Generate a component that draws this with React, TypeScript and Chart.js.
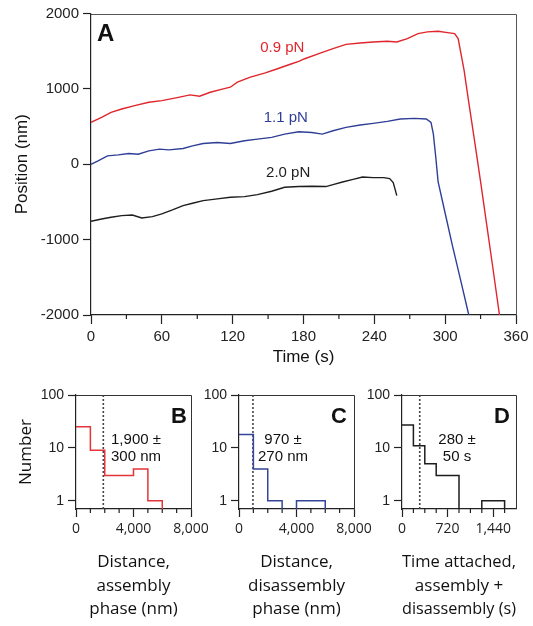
import React, { useEffect, useRef } from 'react';
import { Chart, registerables } from 'chart.js';

Chart.register(...registerables);

const W = 533;
const H = 626;

// ---------- Panel A: traces (time in s, position in nm) ----------
const redTime = [0, 9, 17, 26, 37, 49, 60, 72, 84, 92, 101, 112, 118, 124, 135, 147, 158, 170, 176, 181, 193, 205, 216, 228, 239, 251, 259, 268, 277, 285, 294, 302, 308, 311, 316, 320, 325, 330, 335, 340, 346];
const redPos = [556, 622, 689, 733, 778, 822, 844, 880, 920, 902, 955, 1000, 1022, 1089, 1155, 1209, 1267, 1333, 1364, 1400, 1467, 1533, 1591, 1609, 1622, 1631, 1622, 1667, 1733, 1756, 1764, 1747, 1733, 1667, 1250, 820, 300, -230, -780, -1330, -2000];

const blueTime = [0, 6, 14, 23, 32, 40, 49, 58, 66, 78, 86, 95, 107, 118, 130, 141, 153, 164, 176, 187, 196, 205, 216, 228, 239, 251, 262, 274, 284, 288, 290, 292, 294, 300, 306, 313, 320];
const bluePos = [0, 44, 111, 124, 142, 133, 178, 200, 191, 209, 244, 276, 289, 276, 311, 333, 356, 400, 431, 422, 400, 444, 489, 520, 542, 569, 600, 609, 600, 556, 400, 100, -230, -650, -1070, -1530, -2000];

const blackTime = [0, 9, 17, 26, 35, 43, 52, 60, 69, 78, 86, 95, 107, 118, 130, 141, 153, 164, 176, 187, 199, 205, 213, 222, 230, 239, 248, 253, 256, 258, 259];
const blackPos = [-757, -726, -704, -681, -673, -712, -695, -659, -606, -549, -518, -482, -460, -438, -429, -403, -358, -305, -296, -292, -296, -270, -235, -200, -169, -178, -178, -191, -244, -356, -416];

const traceLabels = ['0.9 pN', '1.1 pN', '2.0 pN'];
const timeTickLabels = [0, 60, 120, 180, 240, 300, 360];
const timeMinorTicks = [30, 90, 150, 210, 270, 330];
const positionTicks = [2000, 1000, 0, -1000, -2000];

// ---------- Panels B, C, D: histograms ----------
const distanceEdges = [0, 1000, 2000, 3000, 4000, 5000, 6000];
const assemblyCounts = [25, 9, 3, 3, 4, 1];
const disassemblyCounts = [18, 4, 1, 0, 1, 1];
const timeEdges = [0, 180, 360, 540, 720, 900, 1080, 1260, 1440, 1620];
const attachedCounts = [27, 11, 5, 3, 3, 0, 0, 1, 1];

const assemblyMedian = 1900;
const disassemblyMedian = 970;
const attachedMedian = 280;

const distanceTickLabels = [0, 4000, 8000];
const distanceMinorTicks = [1000, 2000, 3000, 5000, 6000, 7000];
const attachedTickLabels = [0, 720, 1440];
const attachedMinorTicks = [180, 360, 540, 900, 1080, 1260, 1620];
const countTicks = [1, 10, 100];

const COUNT_MIN = 0.7;
const COUNT_MAX = 100;
const FLOOR = 0.3; // below the axis floor, clipped (empty bins)

const SANS = "'Liberation Sans', Arial, sans-serif";
const MYRIAD = "'Open Sans', 'Noto Sans', sans-serif";

function makeFramePlugin(color: string) {
  return {
    id: 'frame',
    beforeDatasetsDraw(chart: any) {
      const { ctx, chartArea: a } = chart;
      ctx.save();
      ctx.strokeStyle = color;
      ctx.lineWidth = 1;
      ctx.beginPath();
      ctx.moveTo(a.left, Math.round(a.top) + 0.5);
      ctx.lineTo(Math.round(a.right) + 0.5, Math.round(a.top) + 0.5);
      ctx.lineTo(Math.round(a.right) + 0.5, a.bottom);
      ctx.stroke();
      ctx.restore();
    },
  };
}

function makeMinorTicksPlugin(values: number[], len: number) {
  return {
    id: 'minorTicks',
    afterDraw(chart: any) {
      const { ctx, chartArea } = chart;
      const xs = chart.scales.x;
      ctx.save();
      ctx.strokeStyle = '#222';
      ctx.lineWidth = 1.2;
      ctx.setLineDash([]);
      ctx.beginPath();
      for (let i = 0; i < values.length; i++) {
        const px = xs.getPixelForValue(values[i]);
        ctx.moveTo(px, chartArea.bottom);
        ctx.lineTo(px, chartArea.bottom + len);
      }
      ctx.stroke();
      ctx.restore();
    },
  };
}

interface Note {
  data?: boolean;
  x?: number;
  y?: number;
  dx?: number;
  dy?: number;
  fromRight?: boolean;
  lines: string[];
  lineHeight?: number;
  font: string;
  color: string;
  align?: string;
  baseline?: string;
}

function makeNotesPlugin(items: Note[]) {
  return {
    id: 'notes',
    afterDatasetsDraw(chart: any) {
      const { ctx, chartArea } = chart;
      const xs = chart.scales.x;
      const ys = chart.scales.y;
      for (const it of items) {
        ctx.save();
        ctx.font = it.font;
        ctx.fillStyle = it.color;
        ctx.textAlign = it.align || 'center';
        ctx.textBaseline = it.baseline || 'middle';
        let px: number;
        let py: number;
        if (it.data) {
          px = xs.getPixelForValue(it.x);
          py = ys.getPixelForValue(it.y);
        } else {
          px = it.fromRight ? chartArea.right - (it.dx || 0) : chartArea.left + (it.dx || 0);
          py = chartArea.top + (it.dy || 0);
        }
        it.lines.forEach((l, i) => ctx.fillText(l, px, py + i * (it.lineHeight || 0)));
        ctx.restore();
      }
    },
  };
}

const zip = (xs: number[], ys: number[]) => xs.map((x, i) => ({ x, y: ys[i] }));

function stepPoints(edges: number[], counts: number[]) {
  const pts = counts.map((c, i) => ({ x: edges[i], y: c > 0 ? c : FLOOR }));
  pts.push({ x: edges[counts.length], y: FLOOR });
  return pts;
}

const fmt = (v: number) => v.toLocaleString('en-US');

function makeTraceConfig() {
  const top = 13.5;
  const bottom = 315;
  const left = 91;
  const right = 516;
  const xH = 53;
  const line = (data: any[], color: string) => ({
    data,
    borderColor: color,
    borderWidth: 1.4,
    pointRadius: 0,
    fill: false,
    tension: 0,
  });
  const notes: Note[] = [
    { data: true, x: 162, y: 1550, lines: [traceLabels[0]], font: `15px ${SANS}`, color: '#e0262c' },
    { data: true, x: 165, y: 613, lines: [traceLabels[1]], font: `15px ${SANS}`, color: '#2f3f97' },
    { data: true, x: 167, y: -120, lines: [traceLabels[2]], font: `15px ${SANS}`, color: '#1e1e1e' },
    { dx: 6, dy: 9, lines: ['A'], font: `bold 24px ${SANS}`, color: '#111', align: 'left', baseline: 'top' },
  ];
  return {
    type: 'line',
    data: {
      datasets: [
        line(zip(redTime, redPos), '#e0262c'),
        line(zip(blueTime, bluePos), '#2f3f97'),
        line(zip(blackTime, blackPos), '#1e1e1e'),
      ],
    },
    plugins: [makeFramePlugin('#555'), makeMinorTicksPlugin(timeMinorTicks, 4), makeNotesPlugin(notes)],
    options: {
      responsive: false,
      animation: false,
      events: [],
      layout: { padding: { left: 0, top, right: W - right, bottom: H - bottom - xH } },
      plugins: {
        legend: { display: false },
        tooltip: { enabled: false },
      },
      scales: {
        x: {
          type: 'linear',
          min: 0,
          max: 360,
          afterBuildTicks: (s: any) => { s.ticks = timeTickLabels.map((v) => ({ value: v })); },
          ticks: {
            autoSkip: false,
            maxRotation: 0,
            padding: 4,
            color: '#222',
            font: { family: SANS, size: 15 },
            callback: (v: number) => String(v),
          },
          grid: { drawOnChartArea: false, tickLength: 9, tickColor: '#222', tickWidth: 1.2 },
          border: { color: '#222', width: 1.2 },
          title: {
            display: true,
            text: 'Time (s)',
            color: '#111',
            font: { family: SANS, size: 17 },
            padding: { top: 0, bottom: 0 },
          },
          afterFit: (s: any) => { s.height = xH; },
        },
        y: {
          type: 'linear',
          min: -2000,
          max: 2000,
          afterBuildTicks: (s: any) => { s.ticks = positionTicks.map((v) => ({ value: v })); },
          ticks: { padding: 4, color: '#222', font: { family: SANS, size: 15 }, callback: (v: number) => String(v) },
          grid: { drawOnChartArea: false, tickLength: 8, tickColor: '#222', tickWidth: 1.2 },
          border: { color: '#222', width: 1.2 },
          title: {
            display: true,
            text: 'Position (nm)',
            color: '#111',
            font: { family: SANS, size: 17 },
            padding: { top: 12, bottom: 0 },
          },
          afterFit: (s: any) => { s.width = left; },
        },
      },
    },
  };
}

interface HistSpec {
  left: number;
  right: number;
  edges: number[];
  counts: number[];
  median: number;
  color: string;
  xMax: number;
  labels: number[];
  minor: number[];
  title: string[];
  yTitle: string | null;
  letter: string;
  letterDx: number;
  note: string[];
  noteDx: number;
}

function makeHistConfig(h: HistSpec) {
  const top = 395;
  const bottom = 509;
  const yW = 76;
  const xH = 112;
  const notes: Note[] = [
    { fromRight: true, dx: h.letterDx, dy: 11, lines: [h.letter], font: `bold 22px ${SANS}`, color: '#111', align: 'right', baseline: 'top' },
    { dx: h.noteDx, dy: 45, lines: h.note, lineHeight: 17, font: `15px ${SANS}`, color: '#111' },
  ];
  return {
    type: 'line',
    data: {
      datasets: [
        {
          data: stepPoints(h.edges, h.counts),
          stepped: true,
          borderColor: h.color,
          borderWidth: 1.5,
          pointRadius: 0,
          fill: false,
        },
        {
          data: [{ x: h.median, y: COUNT_MIN }, { x: h.median, y: COUNT_MAX }],
          borderColor: '#444',
          borderWidth: 1.6,
          borderDash: [2, 2],
          pointRadius: 0,
          fill: false,
        },
      ],
    },
    plugins: [makeFramePlugin('#333'), makeMinorTicksPlugin(h.minor, 4), makeNotesPlugin(notes)],
    options: {
      responsive: false,
      animation: false,
      events: [],
      layout: { padding: { left: h.left - yW, top, right: W - h.right, bottom: H - bottom - xH } },
      plugins: {
        legend: { display: false },
        tooltip: { enabled: false },
      },
      scales: {
        x: {
          type: 'linear',
          min: 0,
          max: h.xMax,
          afterBuildTicks: (s: any) => { s.ticks = h.labels.map((v) => ({ value: v })); },
          ticks: {
            autoSkip: false,
            maxRotation: 0,
            padding: 4,
            color: '#222',
            font: { family: MYRIAD, size: 14 },
            callback: (v: number) => fmt(v),
          },
          grid: { drawOnChartArea: false, tickLength: 8, tickColor: '#222', tickWidth: 1.2 },
          border: { color: '#222', width: 1.2 },
          title: {
            display: true,
            text: h.title,
            color: '#111',
            font: { family: MYRIAD, size: 17, lineHeight: 1.38 },
            padding: { top: 0, bottom: 0 },
          },
          afterFit: (s: any) => { s.height = xH; },
        },
        y: {
          type: 'logarithmic',
          min: COUNT_MIN,
          max: COUNT_MAX,
          afterBuildTicks: (s: any) => { s.ticks = countTicks.map((v) => ({ value: v })); },
          ticks: { padding: 4, color: '#222', font: { family: SANS, size: 14 }, callback: (v: number) => String(v) },
          grid: { drawOnChartArea: false, tickLength: 8, tickColor: '#222', tickWidth: 1.2 },
          border: { color: '#222', width: 1.2 },
          title: {
            display: !!h.yTitle,
            text: h.yTitle || '',
            color: '#111',
            font: { family: MYRIAD, size: 17 },
            padding: { top: 16, bottom: 0 },
          },
          afterFit: (s: any) => { s.width = yW; },
        },
      },
    },
  };
}

const histB: HistSpec = {
  left: 76, right: 191, edges: distanceEdges, counts: assemblyCounts, median: assemblyMedian,
  color: '#e4353a', xMax: 8000, labels: distanceTickLabels, minor: distanceMinorTicks,
  title: ['Distance,', 'assembly', 'phase (nm)'], yTitle: 'Number', letter: 'B', letterDx: 4,
  note: ['1,900 ±', '300 nm'], noteDx: 60,
};
const histC: HistSpec = {
  left: 239, right: 354, edges: distanceEdges, counts: disassemblyCounts, median: disassemblyMedian,
  color: '#34459a', xMax: 8000, labels: distanceTickLabels, minor: distanceMinorTicks,
  title: ['Distance,', 'disassembly', 'phase (nm)'], yTitle: null, letter: 'C', letterDx: 7,
  note: ['970 ±', '270 nm'], noteDx: 44,
};
const histD: HistSpec = {
  left: 402, right: 516, edges: timeEdges, counts: attachedCounts, median: attachedMedian,
  color: '#1e1e1e', xMax: 1800, labels: attachedTickLabels, minor: attachedMinorTicks,
  title: ['Time attached,', 'assembly +', 'disassembly (s)'], yTitle: null, letter: 'D', letterDx: 6,
  note: ['280 ±', '50 s'], noteDx: 55,
};

function ChartCanvas({ make }: { make: () => any }) {
  const ref = useRef<HTMLCanvasElement>(null);
  useEffect(() => {
    const chart = new Chart(ref.current as HTMLCanvasElement, make());
    return () => chart.destroy();
  }, []);
  return (
    <canvas
      ref={ref}
      width={W}
      height={H}
      style={{ position: 'absolute', left: 0, top: 0, width: W, height: H }}
    />
  );
}

export default function App() {
  return (
    <div style={{ position: 'absolute', left: 0, top: 0, width: W, height: H, background: '#fff', overflow: 'hidden' }}>
      <ChartCanvas make={makeTraceConfig} />
      <ChartCanvas make={() => makeHistConfig(histB)} />
      <ChartCanvas make={() => makeHistConfig(histC)} />
      <ChartCanvas make={() => makeHistConfig(histD)} />
    </div>
  );
}
